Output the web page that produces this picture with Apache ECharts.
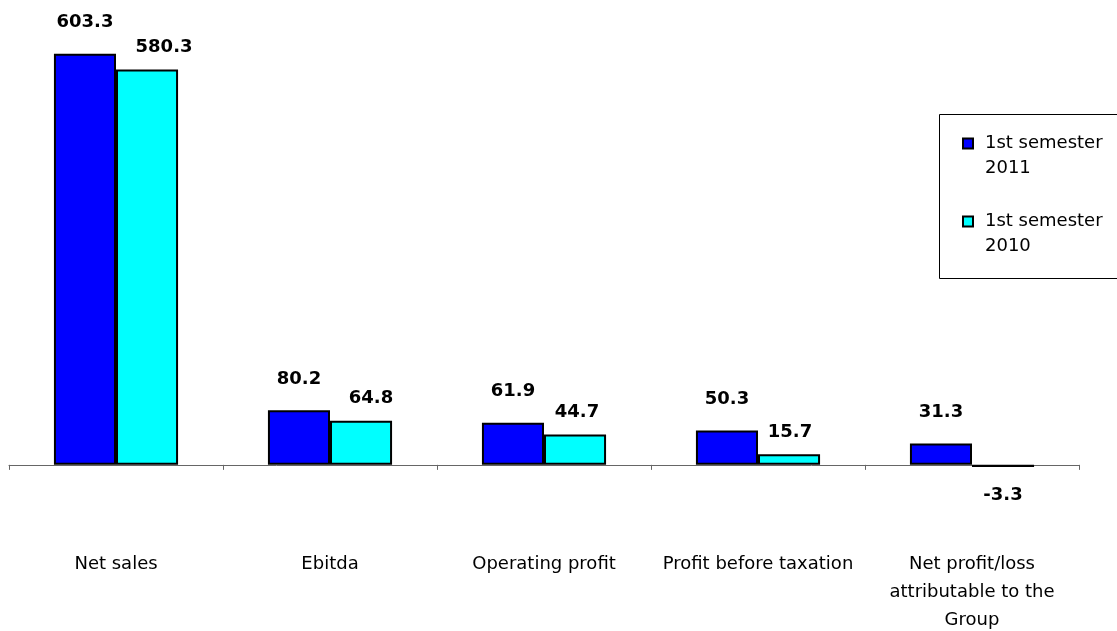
<!DOCTYPE html>
<html>
<head>
<meta charset="utf-8">
<script src="https://cdn.jsdelivr.net/npm/echarts@6/dist/echarts.min.js"></script>
<style>
  html, body { margin: 0; padding: 0; background: #fff; }
  #chart { width: 1117px; height: 631px; }
</style>
</head>
<body>
<div id="chart"></div>
<script>
const categories = [
  'Net sales',
  'Ebitda',
  'Operating profit',
  'Profit before taxation',
  'Net profit/loss\nattributable to the\nGroup'
];
const seriesNames = ['1st semester 2011', '1st semester 2010'];
const values2011 = [603.3, 80.2, 61.9, 50.3, 31.3];
const values2010 = [580.3, 64.8, 44.7, 15.7, -3.3];

const FONT = 'Tahoma, "DejaVu Sans", sans-serif';

function buildData(values, shifts) {
  return values.map((v, i) => {
    const item = { value: v };
    const lab = {};
    if (v < 0) { lab.position = 'bottom'; lab.distance = 19; }
    if (shifts && shifts[i]) { lab.offset = [shifts[i], 0]; }
    item.label = lab;
    return item;
  });
}

const chart = echarts.init(document.getElementById('chart'), null, { renderer: 'canvas' });

const labelBase = {
  show: true,
  position: 'top',
  color: '#000',
  fontFamily: FONT,
  fontWeight: 'bold',
  fontSize: 18,
  formatter: p => Number(p.value).toFixed(1)
};

chart.setOption({
  animation: false,
  backgroundColor: '#fff',
  graphic: [{
    type: 'rect',
    z: 0,
    shape: { x: 939.5, y: 114.5, width: 200, height: 164 },
    style: { fill: '#fff', stroke: '#000', lineWidth: 1 }
  }],
  legend: {
    z: 10,
    orient: 'vertical',
    left: 957,
    top: 101,
    itemWidth: 10,
    itemHeight: 10,
    itemGap: 3,
    icon: 'rect',
    data: seriesNames,
    formatter: name => '\n' + name.replace(' 20', '\n20'),
    textStyle: {
      color: '#000',
      fontFamily: FONT,
      fontSize: 18,
      lineHeight: 25,
      padding: [0, 0, 0, 7]
    }
  },
  grid: { left: 9, right: 38, top: 22, bottom: 98, containLabel: false, outerBoundsMode: 'none' },
  xAxis: {
    type: 'category',
    data: categories,
    axisLine: { show: true, onZero: true, lineStyle: { color: '#666', width: 1 } },
    axisTick: { show: true, length: 5, interval: 0, lineStyle: { color: '#666' } },
    axisLabel: {
      interval: 0,
      margin: 17,
      color: '#000',
      fontFamily: FONT,
      fontSize: 18,
      lineHeight: 28
    }
  },
  yAxis: {
    type: 'value',
    min: -100,
    max: 650,
    show: false,
    splitLine: { show: false }
  },
  series: [
    {
      name: seriesNames[0],
      type: 'bar',
      data: buildData(values2011),
      barGap: '0%',
      barCategoryGap: '42%',
      itemStyle: { color: '#0000FF', borderColor: '#000', borderWidth: 2 },
      label: Object.assign({}, labelBase, { distance: 22 })
    },
    {
      name: seriesNames[1],
      type: 'bar',
      data: buildData(values2010, [17, 10, 2, 1, 0]),
      barGap: '0%',
      barCategoryGap: '42%',
      itemStyle: { color: '#00FFFF', borderColor: '#000', borderWidth: 2 },
      label: Object.assign({}, labelBase, { distance: 13 })
    }
  ]
});
</script>
</body>
</html>
